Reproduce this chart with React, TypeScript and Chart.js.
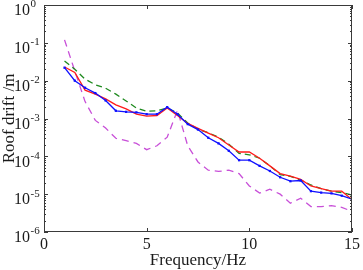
import React, { useEffect, useRef } from "react";
import { Chart, registerables } from "chart.js";

Chart.register(...registerables);

// Frequency axis samples (Hz)
const freqs = [
  1, 1.5, 2, 2.5, 3, 3.5, 4, 4.5, 5, 5.5, 6, 6.5, 7, 7.5, 8,
  8.5, 9, 9.5, 10, 10.5, 11, 11.5, 12, 12.5, 13, 13.5, 14, 14.5, 15,
];

// Roof drift spectra (m)
const driftBlue = [
  2.2e-2, 1.0e-2, 6.5e-3, 4.7e-3, 3.0e-3, 1.6e-3, 1.5e-3, 1.45e-3, 1.3e-3, 1.3e-3,
  2.0e-3, 1.3e-3, 7.1e-4, 5.1e-4, 3.1e-4, 2.2e-4, 1.4e-4, 7.9e-5, 7.9e-5, 5.6e-5,
  4.1e-5, 2.8e-5, 2.2e-5, 2.3e-5, 1.2e-5, 1.1e-5, 1.05e-5, 9.1e-6, 7.4e-6,
];
const driftRed = [
  2.3e-2, 1.65e-2, 5.6e-3, 4.4e-3, 3.3e-3, 2.3e-3, 1.8e-3, 1.3e-3, 1.15e-3, 1.2e-3,
  1.9e-3, 1.2e-3, 7.4e-4, 5.5e-4, 4.1e-4, 3.1e-4, 2.0e-4, 1.3e-4, 1.3e-4, 8.9e-5,
  5.6e-5, 3.5e-5, 3.0e-5, 2.45e-5, 1.65e-5, 1.4e-5, 1.2e-5, 1.2e-5, 7.2e-6,
];
const driftGreen = [
  3.3e-2, 2.0e-2, 1.1e-2, 7.8e-3, 6.3e-3, 4.4e-3, 2.9e-3, 1.9e-3, 1.55e-3, 1.6e-3,
  1.9e-3, 1.4e-3, 7.6e-4, 5.2e-4, 4.2e-4, 3.2e-4, 2.1e-4, 1.2e-4, 1.1e-4, 8.9e-5,
  5.6e-5, 3.3e-5, 2.95e-5, 2.35e-5, 1.75e-5, 1.4e-5, 1.2e-5, 1.1e-5, 9.5e-6,
];
const driftMagenta = [
  1.2e-1, 1.8e-2, 2.8e-3, 8.9e-4, 5.6e-4, 3.0e-4, 2.6e-4, 2.2e-4, 1.5e-4, 1.9e-4,
  3.2e-4, 1.65e-3, 1.9e-4, 7.1e-5, 4.3e-5, 4.0e-5, 4.3e-5, 3.5e-5, 1.65e-5, 1.07e-5,
  1.35e-5, 1.0e-5, 5.8e-6, 7.8e-6, 4.7e-6, 4.7e-6, 5.0e-6, 4.5e-6, 3.5e-6,
];

const xTicks = [0, 5, 10, 15];
const yExponents = [0, -1, -2, -3, -4, -5, -6];

const xTitle = "Frequency/Hz";
const yTitle = "Roof drift /m";

const SERIF = "'Liberation Serif', 'Times New Roman', serif";
const AXIS_COLOR = "#3a3a3a";

const toPoints = (ys: number[]) => freqs.map((f, i) => ({ x: f, y: ys[i] }));

// Draws the boxed MATLAB-style frame, inward ticks and the axis text.
const frameAndLabels = {
  id: "frameAndLabels",
  afterDraw(chart: any) {
    const { ctx, chartArea, scales } = chart;
    const { left, right, top, bottom } = chartArea;
    const xs = scales.x;
    const ys = scales.y;
    ctx.save();
    ctx.strokeStyle = AXIS_COLOR;
    ctx.lineWidth = 1;
    ctx.strokeRect(left + 0.5, top + 0.5, right - left - 1, bottom - top - 1);

    ctx.beginPath();
    // x ticks, bottom and top
    for (const v of xTicks) {
      const px = Math.round(xs.getPixelForValue(v)) + 0.5;
      ctx.moveTo(px, bottom);
      ctx.lineTo(px, bottom - 4);
      ctx.moveTo(px, top);
      ctx.lineTo(px, top + 4);
    }
    // y major + minor ticks, left and right
    for (let e = -6; e <= 0; e++) {
      for (let m = 1; m <= 9; m++) {
        if (e === 0 && m > 1) break;
        const v = m * Math.pow(10, e);
        const py = Math.round(ys.getPixelForValue(v)) + 0.5;
        const len = m === 1 ? 4 : 2;
        ctx.moveTo(left, py);
        ctx.lineTo(left + len, py);
        ctx.moveTo(right, py);
        ctx.lineTo(right - len, py);
      }
    }
    ctx.stroke();

    ctx.fillStyle = "#1a1a1a";
    // x tick labels
    ctx.font = `16px ${SERIF}`;
    ctx.textAlign = "center";
    ctx.textBaseline = "middle";
    for (const v of xTicks) {
      ctx.fillText(String(v), xs.getPixelForValue(v), bottom + 13);
    }
    // y tick labels: 10 with superscript exponent
    for (const e of yExponents) {
      const py = ys.getPixelForValue(Math.pow(10, e));
      ctx.font = `16px ${SERIF}`;
      ctx.textAlign = "right";
      ctx.textBaseline = "middle";
      ctx.fillText("10", 30, py + 6);
      ctx.font = `11px ${SERIF}`;
      ctx.textAlign = "left";
      ctx.fillText(e === 0 ? "0" : "-" + String(-e), 30.5, py - 0.5);
    }
    // axis titles
    ctx.font = `17px ${SERIF}`;
    ctx.textAlign = "center";
    ctx.textBaseline = "middle";
    ctx.fillText(xTitle, (left + right) / 2, 261);
    ctx.translate(10, (top + bottom) / 2);
    ctx.rotate(-Math.PI / 2);
    ctx.fillText(yTitle, 0, 0);
    ctx.restore();
  },
};

export default function App() {
  const canvasRef = useRef<HTMLCanvasElement | null>(null);

  useEffect(() => {
    const canvas = canvasRef.current;
    if (!canvas) return;
    const chart = new Chart(canvas, {
      type: "line",
      data: {
        datasets: [
          {
            data: toPoints(driftBlue),
            borderColor: "#1010ff",
            backgroundColor: "#1010ff",
            borderWidth: 1.3,
            pointRadius: 1.6,
            pointStyle: "rect",
            pointBorderWidth: 0,
            order: 0,
          },
          {
            data: toPoints(driftRed),
            borderColor: "#ff1a1a",
            borderWidth: 1.3,
            pointRadius: 0,
            order: 1,
          },
          {
            data: toPoints(driftGreen),
            borderColor: "#1e8a1e",
            borderWidth: 1.3,
            borderDash: [6, 4],
            pointRadius: 0,
            order: 2,
          },
          {
            data: toPoints(driftMagenta),
            borderColor: "#c84fd8",
            borderWidth: 1.3,
            borderDash: [7, 5],
            pointRadius: 0,
            order: 3,
          },
        ],
      },
      options: {
        animation: false,
        responsive: false,
        maintainAspectRatio: false,
        devicePixelRatio: 1,
        layout: { padding: { top: 5, right: 11, left: 0, bottom: 0 } },
        plugins: {
          legend: { display: false },
          tooltip: { enabled: false },
        },
        elements: { line: { tension: 0 } },
        scales: {
          x: {
            type: "linear",
            min: 0,
            max: 15,
            grid: { display: false },
            border: { display: false },
            ticks: { display: false },
            afterFit: (s: any) => {
              s.height = 38;
            },
          },
          y: {
            type: "logarithmic",
            min: 1e-6,
            max: 1,
            grid: { display: false },
            border: { display: false },
            ticks: { display: false },
            afterFit: (s: any) => {
              s.width = 44;
            },
          },
        },
      },
      plugins: [frameAndLabels],
    });
    return () => chart.destroy();
  }, []);

  return (
    <div style={{ position: "absolute", left: 0, top: 0, width: 363, height: 270, background: "#fff" }}>
      <canvas ref={canvasRef} width={363} height={270} style={{ display: "block" }} />
    </div>
  );
}
